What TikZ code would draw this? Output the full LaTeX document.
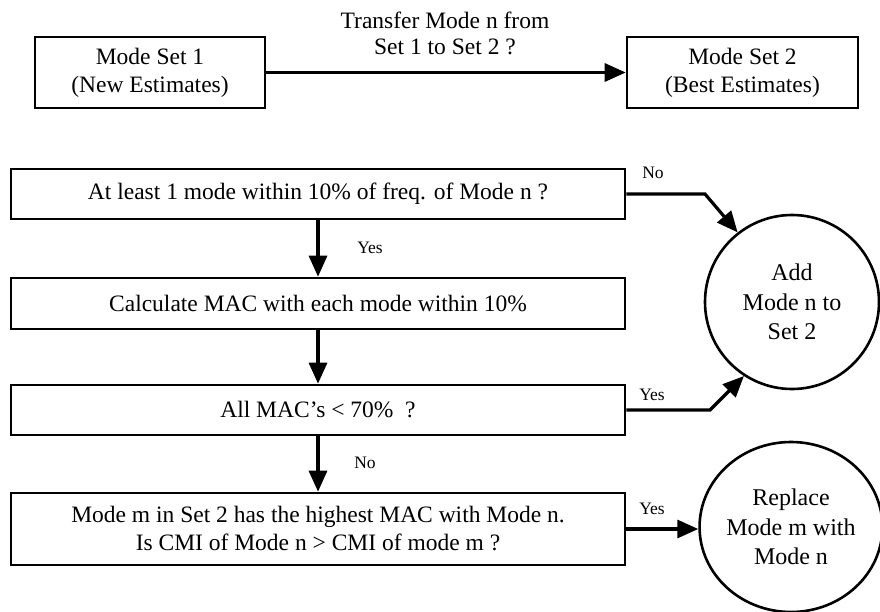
\documentclass[tikz,border=0pt]{standalone}
\usepackage{fontspec}
\setmainfont{Liberation Serif}
\usetikzlibrary{shapes.geometric,arrows.meta}
\begin{document}
\begin{tikzpicture}[x=1pt,y=-1pt,
  boxnode/.style={draw,line width=2.6pt,rectangle,inner sep=0pt,align=center,
    font=\fontsize{23.5}{28}\selectfont},
  roundnode/.style={draw,line width=2.6pt,inner sep=0pt,align=center,
    font=\fontsize{24}{29.5}\selectfont},
  conn/.style={line width=3.2pt,-{Triangle[length=21pt,width=18pt]}},
  lbl/.style={font=\fontsize{17.5}{20}\selectfont,inner sep=0pt}]
\useasboundingbox (0,0) rectangle (880,612);
\node[boxnode,minimum width=230pt,minimum height=71pt] (m1) at (150,72.5) {Mode Set 1\\(New Estimates)};
\node[boxnode,minimum width=231pt,minimum height=71pt] (m2) at (742.5,72.5) {Mode Set 2\\(Best Estimates)};
\node[align=center,inner sep=0pt,font=\fontsize{23.5}{26}\selectfont] (tl) at (445,33) {Transfer Mode n from\\Set 1 to Set 2 ?};
\draw[conn] (m1.east) -- (m2.west);

\node[boxnode,minimum width=614pt,minimum height=50pt] (A) at (318,194) {At least 1 mode within 10\% of freq. of Mode n ?};
\node[boxnode,minimum width=614pt,minimum height=51pt] (B) at (318,303.5) {Calculate MAC with each mode within 10\%};
\node[boxnode,minimum width=614pt,minimum height=50pt] (C) at (318,410) {All MAC’s < 70\% \ ?};
\node[boxnode,minimum width=614pt,minimum height=72pt] (D) at (318,529) {Mode m in Set 2 has the highest MAC with Mode n.\\Is CMI of Mode n > CMI of mode m ?};

\node[roundnode,circle,minimum size=174pt] (add) at (792,302) {Add\\Mode n to\\Set 2};
\node[roundnode,ellipse,minimum width=162pt,minimum height=170pt] (rep) at (791,527) {Replace\\Mode m with\\Mode n};

\draw[conn] (A.south) -- (B.north);
\draw[conn] (B.south) -- (C.north);
\draw[conn] (C.south) -- (D.north);
\coordinate (k1) at (705,194);
\coordinate (k2) at (710,410);
\draw[conn] (A.east) -- (k1) -- (add.128);
\draw[conn] (C.east) -- (k2) -- (add.237);
\draw[conn] (D.east) -- (D.east -| rep.west);

\node[lbl] (l1) at (653,173) {No};
\node[lbl] (l2) at (370,248) {Yes};
\node[lbl] (l3) at (652,395) {Yes};
\node[lbl] (l4) at (365,463) {No};
\node[lbl] (l5) at (652,509) {Yes};
\end{tikzpicture}
\end{document}
